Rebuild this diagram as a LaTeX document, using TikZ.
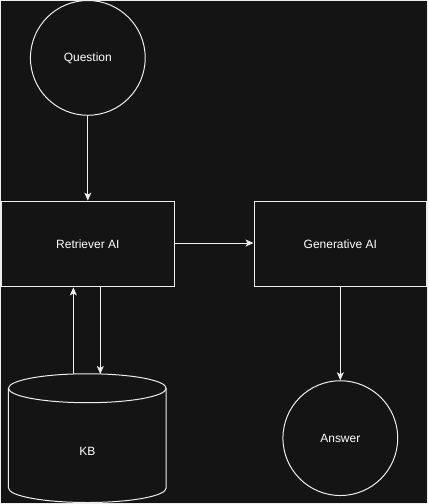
\documentclass[tikz,border=0pt]{standalone}
\usepackage{fontspec}
\setmainfont{Liberation Sans}
\usetikzlibrary{arrows.meta}
\definecolor{bgdark}{RGB}{20,20,20}
\definecolor{linegray}{RGB}{238,238,238}

\begin{document}
\begin{tikzpicture}[x=1pt,y=-1pt,
    font=\fontsize{12}{14}\selectfont, text=white,
    every path/.style={draw=linegray, line width=1pt},
    flow/.style={-{Stealth[length=8pt,width=7pt,inset=2pt]}},
    aibox/.style={rectangle, draw=linegray, minimum width=173pt, minimum height=86pt},
    endpoint/.style={circle, draw=linegray, minimum size=115pt, inner sep=0pt}]
    \fill[bgdark, draw=none] (0,0) rectangle (428,504);
    \useasboundingbox (0,0) rectangle (428,504);
    % shapes
    \node[endpoint] (question) at (87.5,57.5) {Question};
    \node[aibox] (retriever) at (87.5,244) {Retriever AI};
    \node[aibox] (generative) at (340.5,244) {Generative AI};
    \node[endpoint] (answer) at (340.5,438.5) {Answer};
    % knowledge base
    \draw (87,388.5) ellipse [x radius=79, y radius=14.5];
    \draw (8,388.5) -- (8,488.5)
      arc [start angle=180, end angle=0, x radius=79, y radius=14.5]
      -- (166,388.5);
    \node[draw=none] (kb) at (87,452) {KB};
    \coordinate (kbup) at (73,374.2);
    \coordinate (kbdown) at (100,374.2);
    % connectors
    \draw[flow] (question) -- (retriever);
    \draw[flow] (retriever.east |- 0,243) -- (generative.west |- 0,243);
    \draw[flow] (generative) -- (answer);
    \draw[flow] (kbup) -- (kbup |- retriever.south);
    \draw[flow] (kbdown |- retriever.south) -- (kbdown);
\end{tikzpicture}
\end{document}
